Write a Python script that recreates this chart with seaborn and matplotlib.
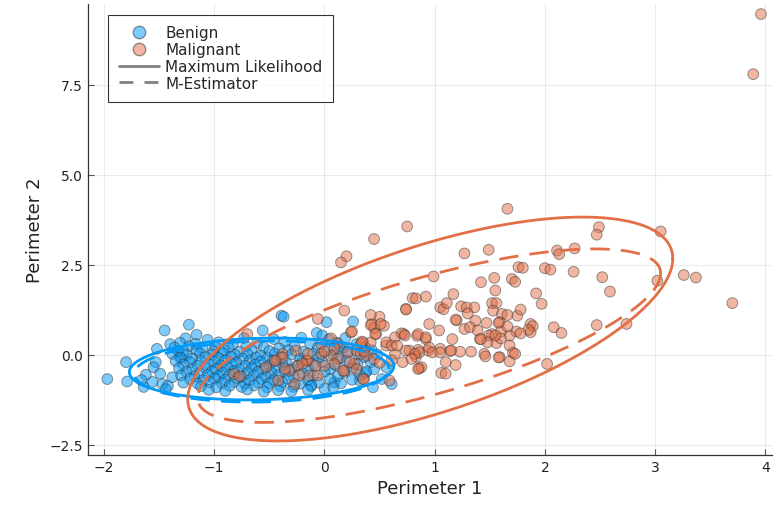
import numpy as np
import pandas as pd
import seaborn as sns
import matplotlib
matplotlib.use("Agg")
import matplotlib.pyplot as plt
from matplotlib.lines import Line2D

# points (Perimeter 1, Perimeter 2)
benign_pts = [
    (-1.97,-0.67),(-1.80,-0.20),(-1.79,-0.74),(-1.64,-0.89),(-1.56,-0.75),(-1.47,-0.81),(-1.53,-0.20),
    (-1.55,-0.34),(-1.52,0.17),(-1.45,0.68),(-1.23,0.84),(-1.16,0.56),(-0.39,1.09),(-0.37,1.06),
    (-0.56,0.68),(0.26,0.93),(0.02,0.91),(-0.07,0.61),(-0.02,0.54),(0.52,-0.67),(0.61,-0.81),
    (0.44,-0.90),(0.00,-0.94),(0.09,-0.76),(-0.12,-0.85),(0.37,-0.50),(0.32,-0.71),(0.56,-0.34),
    (0.17,0.20),(-1.62,-0.55),(-1.49,-0.52),(-1.42,-0.86),(-1.38,-0.62),(-1.40,0.30),(-1.33,0.12),
    (-1.30,-0.08),(-1.66,-0.70),(-1.44,-0.95),
    (-1.26,0.46),(-1.06,0.42),(-0.73,0.47),(-0.46,0.44),(-0.21,0.48),(0.04,0.43),(0.19,0.47),
    (-1.31,0.34),(-1.17,0.31),(-0.96,0.35),(-0.83,0.30),(-0.61,0.33),(-0.36,0.36),(-0.13,0.31),(0.11,0.34),(0.29,0.30),
    (-1.36,0.21),(-1.23,0.24),(-1.11,0.19),(-0.99,0.23),(-0.87,0.20),(-0.71,0.24),(-0.55,0.21),(-0.41,0.18),
    (-0.27,0.23),(-0.06,0.20),(0.14,0.24),(0.37,0.21),
    (-1.28,0.11),(-1.16,0.14),(-1.01,0.10),(-0.91,0.13),(-0.77,0.09),(-0.66,0.14),(-0.50,0.11),(-0.33,0.13),
    (-0.19,0.09),(0.03,0.12),(0.21,0.10),(0.43,0.13),
    (-1.38,0.03),(-1.25,0.00),(-1.13,0.04),(-1.02,0.01),(-0.92,0.05),(-0.81,0.00),(-0.70,0.03),(-0.58,-0.01),
    (-0.45,0.04),(-0.30,0.01),(-0.10,0.03),(0.08,0.00),(0.30,0.04),(0.48,0.01),
    (-1.31,-0.07),(-1.20,-0.10),(-1.08,-0.06),(-0.96,-0.09),(-0.85,-0.05),(-0.74,-0.10),(-0.62,-0.07),
    (-0.52,-0.09),(-0.40,-0.06),(-0.22,-0.10),(-0.05,-0.07),(0.14,-0.09),(0.36,-0.06),
    (-1.35,-0.17),(-1.22,-0.20),(-1.12,-0.16),(-1.00,-0.19),(-0.90,-0.15),(-0.80,-0.21),(-0.68,-0.17),
    (-0.58,-0.19),(-0.47,-0.16),(-0.35,-0.20),(-0.20,-0.17),(-0.02,-0.19),(0.20,-0.16),(0.42,-0.20),
    (-1.28,-0.27),(-1.15,-0.30),(-1.05,-0.26),(-0.94,-0.29),(-0.84,-0.25),(-0.72,-0.30),(-0.63,-0.27),
    (-0.50,-0.29),(-0.38,-0.26),(-0.25,-0.30),(-0.10,-0.27),(0.10,-0.29),(0.30,-0.26),
    (-1.32,-0.37),(-1.20,-0.40),(-1.08,-0.36),(-0.98,-0.39),(-0.88,-0.35),(-0.77,-0.40),(-0.66,-0.37),
    (-0.55,-0.39),(-0.44,-0.36),(-0.30,-0.40),(-0.15,-0.37),(0.05,-0.39),(0.25,-0.36),(0.45,-0.40),
    (-1.25,-0.47),(-1.13,-0.50),(-1.02,-0.46),(-0.92,-0.49),(-0.82,-0.45),(-0.70,-0.50),(-0.60,-0.47),
    (-0.48,-0.49),(-0.36,-0.46),(-0.20,-0.50),(0.00,-0.47),(0.18,-0.49),(0.38,-0.46),
    (-1.30,-0.57),(-1.18,-0.60),(-1.06,-0.56),(-0.96,-0.59),(-0.86,-0.55),(-0.75,-0.60),(-0.64,-0.57),
    (-0.53,-0.59),(-0.42,-0.56),(-0.28,-0.60),(-0.10,-0.57),(0.12,-0.59),(0.32,-0.56),
    (-1.22,-0.67),(-1.10,-0.70),(-1.00,-0.66),(-0.90,-0.69),(-0.79,-0.65),(-0.68,-0.70),(-0.57,-0.67),
    (-0.46,-0.69),(-0.33,-0.66),(-0.15,-0.70),(0.05,-0.67),(0.25,-0.69),
    (-1.28,-0.77),(-1.15,-0.80),(-1.04,-0.76),(-0.93,-0.79),(-0.82,-0.75),(-0.72,-0.80),(-0.60,-0.77),
    (-0.50,-0.79),(-0.38,-0.76),(-0.22,-0.80),(-0.05,-0.77),(0.15,-0.79),
    (-1.12,-0.87),(-0.98,-0.90),(-0.86,-0.86),(-0.75,-0.89),(-0.64,-0.85),(-0.52,-0.90),(-0.40,-0.87),
    (-0.28,-0.89),(-0.12,-0.86),(0.08,-0.90),
    (-1.05,-0.97),(-0.90,-1.00),(-0.70,-0.96),(-0.55,-1.02),(-0.42,-0.98),(-0.30,-1.01),(-0.15,-0.97),
]

malignant_pts = [
    (3.96,9.47),(3.89,7.80),(3.26,2.22),(3.37,2.15),(3.70,1.44),(3.05,3.43),(3.02,2.06),
    (1.66,4.06),(0.75,3.57),(0.45,3.22),(0.20,2.74),(0.15,2.57),(1.27,2.82),(1.49,2.92),
    (2.49,3.55),(2.47,3.34),(2.11,2.90),(2.27,2.96),(2.13,2.80),(0.99,2.18),
    (1.76,2.44),(1.80,2.42),(2.00,2.41),(2.05,2.37),(2.26,2.31),(2.52,2.16),(2.59,1.76),
    (1.70,2.11),(1.73,2.03),(1.42,2.02),(1.54,2.14),(1.55,1.79),(1.92,1.71),(1.97,1.42),
    (1.17,1.69),(0.92,1.62),(0.80,1.58),(0.83,1.57),(0.74,1.28),(0.18,1.23),(0.50,1.06),(0.43,0.86),(0.54,0.81),
    (1.05,1.32),(1.08,1.27),(1.11,1.44),(1.24,1.35),(1.29,1.32),(1.36,1.32),(1.30,1.15),(1.20,0.96),
    (1.19,0.98),(1.37,0.95),(1.27,0.72),(1.32,0.77),
    (1.52,1.44),(1.56,1.44),(1.53,1.23),(1.61,1.14),(1.66,1.11),(1.75,1.09),(1.78,1.26),(1.59,0.91),
    (1.58,0.89),(1.47,0.89),
    (1.87,0.86),(1.89,0.80),(1.87,0.63),(1.85,0.70),(1.74,0.65),(1.78,0.60),(1.68,0.54),(1.60,0.65),
    (1.66,0.79),(1.52,0.58),(1.49,0.54),(1.41,0.44),(1.48,0.35),(1.56,0.33),(1.60,0.46),(1.68,0.26),
    (1.71,0.06),(1.59,-0.06),(1.68,-0.18),(2.02,-0.25),
    (2.08,0.77),(2.15,0.61),(2.47,0.83),(2.74,0.86),
    (0.95,0.86),(1.04,0.68),(1.16,0.44),(1.33,0.09),(1.23,0.09),(1.45,0.03),(1.46,-0.04),(1.19,-0.28),
    (1.06,-0.50),(1.10,-0.52),(0.86,-0.37),(1.10,-0.20),(0.94,0.12),(0.85,0.14),(0.77,0.12),(0.72,0.58),
    (0.64,0.49),(0.56,0.26),(0.47,0.58),(0.45,0.75),(0.35,0.35),(0.92,0.44),(0.84,0.53),(0.85,0.58),
    (0.92,0.49),(1.05,0.17),(1.14,0.11),(0.64,0.03),(0.71,-0.20),(0.83,-0.05),(0.61,-0.15),(0.42,0.35),
    (0.24,0.63),(0.33,0.31),(0.95,0.21),(0.86,0.07),(0.98,0.07),(1.05,0.07),(1.15,0.12),(0.88,-0.34),
    (1.39,0.68),(1.42,0.44),(1.55,0.54),(1.73,0.03),(1.58,-0.07),
    (0.74,1.26),(-0.06,1.00),(0.42,1.11),(0.51,0.86),(0.25,0.65),(0.42,0.83),(0.46,0.58),(0.70,0.60),
    (0.73,0.54),(0.34,0.37),(0.56,0.35),(0.61,0.26),(0.66,0.26),(0.74,0.12),(0.82,0.03),(0.79,-0.11),
    (0.06,0.46),(0.12,0.31),(0.09,0.18),(-0.03,0.31),(0.21,0.07),(0.29,0.12),(0.38,-0.02),(0.45,-0.11),
    (0.50,-0.22),(0.06,-0.02),(0.12,-0.11),(0.27,-0.25),(0.18,-0.44),(0.00,-0.30),(-0.14,-0.57),
    (-0.06,-0.57),(-0.15,-0.16),(0.36,-0.67),(0.59,-0.71),(0.85,-0.39),
    (-0.70,0.58),(-0.82,-0.53),(-0.77,-0.60),(-0.53,-0.34),(-0.44,-0.16),(-0.38,0.03),(-0.26,0.12),
    (-0.24,-0.30),(-0.32,-0.44),(-0.42,-0.71),(-0.27,-0.81),(-0.23,-0.57),(-0.16,-0.16),(-0.38,-0.07),
    (-0.45,-0.16),(-0.20,-0.25),(-0.15,0.03),(-0.36,-0.39),(-0.08,-0.30),(-0.03,0.03),(0.00,0.10),
    (0.09,-0.25),(0.17,-0.44),(0.23,-0.20),(0.29,-0.39),(0.35,-0.67),(0.33,0.03),(0.36,0.10),
]

# ellipse outlines: center x, center y, half x-extent, half y-extent, phase
ellipse_names = ["Benign ML", "Benign M", "Malignant ML", "Malignant M"]
ellipse_cx = [-0.57, -0.57, 0.96, 0.95]
ellipse_cy = [-0.39, -0.46, 0.72, 0.535]
ellipse_rx = [1.20, 1.155, 2.20, 2.10]
ellipse_ry = [0.86, 0.85, 3.11, 2.41]
ellipse_phase = [0.10, 0.08, 0.68, 0.80]
ellipse_group = ["Benign", "Benign", "Malignant", "Malignant"]
ellipse_dashed = [False, True, False, True]

blue = "#009AFA"
orange = "#E26F46"
palette = {"Benign": blue, "Malignant": orange}

df = pd.DataFrame(benign_pts + malignant_pts, columns=["Perimeter 1", "Perimeter 2"])
df["Diagnosis"] = ["Benign"] * len(benign_pts) + ["Malignant"] * len(malignant_pts)

sns.set_style("ticks")
plt.rcParams["font.family"] = ["DejaVu Sans"]

fig = plt.figure(figsize=(7.74, 5.10), dpi=100)
ax = fig.add_axes([0.1137, 0.1059, 0.8837, 0.8843])

sns.scatterplot(data=df, x="Perimeter 1", y="Perimeter 2", hue="Diagnosis", palette=palette,
                s=60, alpha=0.5, edgecolor="#333333", linewidth=0.7, legend=False, ax=ax, zorder=3)

t = np.linspace(0, 2 * np.pi, 400)
for i in range(len(ellipse_names)):
    ex = ellipse_cx[i] + ellipse_rx[i] * np.cos(t)
    ey = ellipse_cy[i] + ellipse_ry[i] * np.sin(t + ellipse_phase[i])
    ls = (0, (7, 4)) if ellipse_dashed[i] else "-"
    ax.plot(ex, ey, color=palette[ellipse_group[i]], lw=2.0, linestyle=ls, zorder=4)

ax.set_xlim(-2.145, 4.06)
ax.set_ylim(-2.78, 9.75)
ax.set_xticks([-2, -1, 0, 1, 2, 3, 4])
ax.set_yticks([-2.5, 0.0, 2.5, 5.0, 7.5])
ax.set_yticklabels(["\u22122.5", "0.0", "2.5", "5.0", "7.5"])
ax.set_xticklabels(["\u22122", "\u22121", "0", "1", "2", "3", "4"])
ax.grid(True, color="black", alpha=0.08, lw=0.8)
ax.tick_params(direction="in", length=4, width=0.8, colors="#555555", labelcolor="#222222", labelsize=10)
for side in ["top", "right"]:
    ax.spines[side].set_visible(False)
for side in ["left", "bottom"]:
    ax.spines[side].set_color("#333333")
    ax.spines[side].set_linewidth(0.9)
ax.set_xlabel("Perimeter 1", fontsize=13, color="#222222")
ax.set_ylabel("Perimeter 2", fontsize=13, color="#222222")

handles = [
    Line2D([], [], marker="o", ls="", markersize=9, markerfacecolor=blue, alpha=0.5, markeredgecolor="#333333"),
    Line2D([], [], marker="o", ls="", markersize=9, markerfacecolor=orange, alpha=0.5, markeredgecolor="#333333"),
    Line2D([], [], color="gray", lw=2),
    Line2D([], [], color="gray", lw=2, linestyle=(0, (5, 4))),
]
labels = ["Benign", "Malignant", "Maximum Likelihood", "M-Estimator"]
leg = ax.legend(handles, labels, loc="upper left", bbox_to_anchor=(0.021, 0.99), fontsize=11,
                frameon=True, fancybox=False, edgecolor="black", handlelength=2.6,
                labelspacing=0.12, borderpad=0.7, handletextpad=0.4, borderaxespad=0.4)
leg.get_frame().set_linewidth(0.8)

fig.savefig("out.png", dpi=100)
